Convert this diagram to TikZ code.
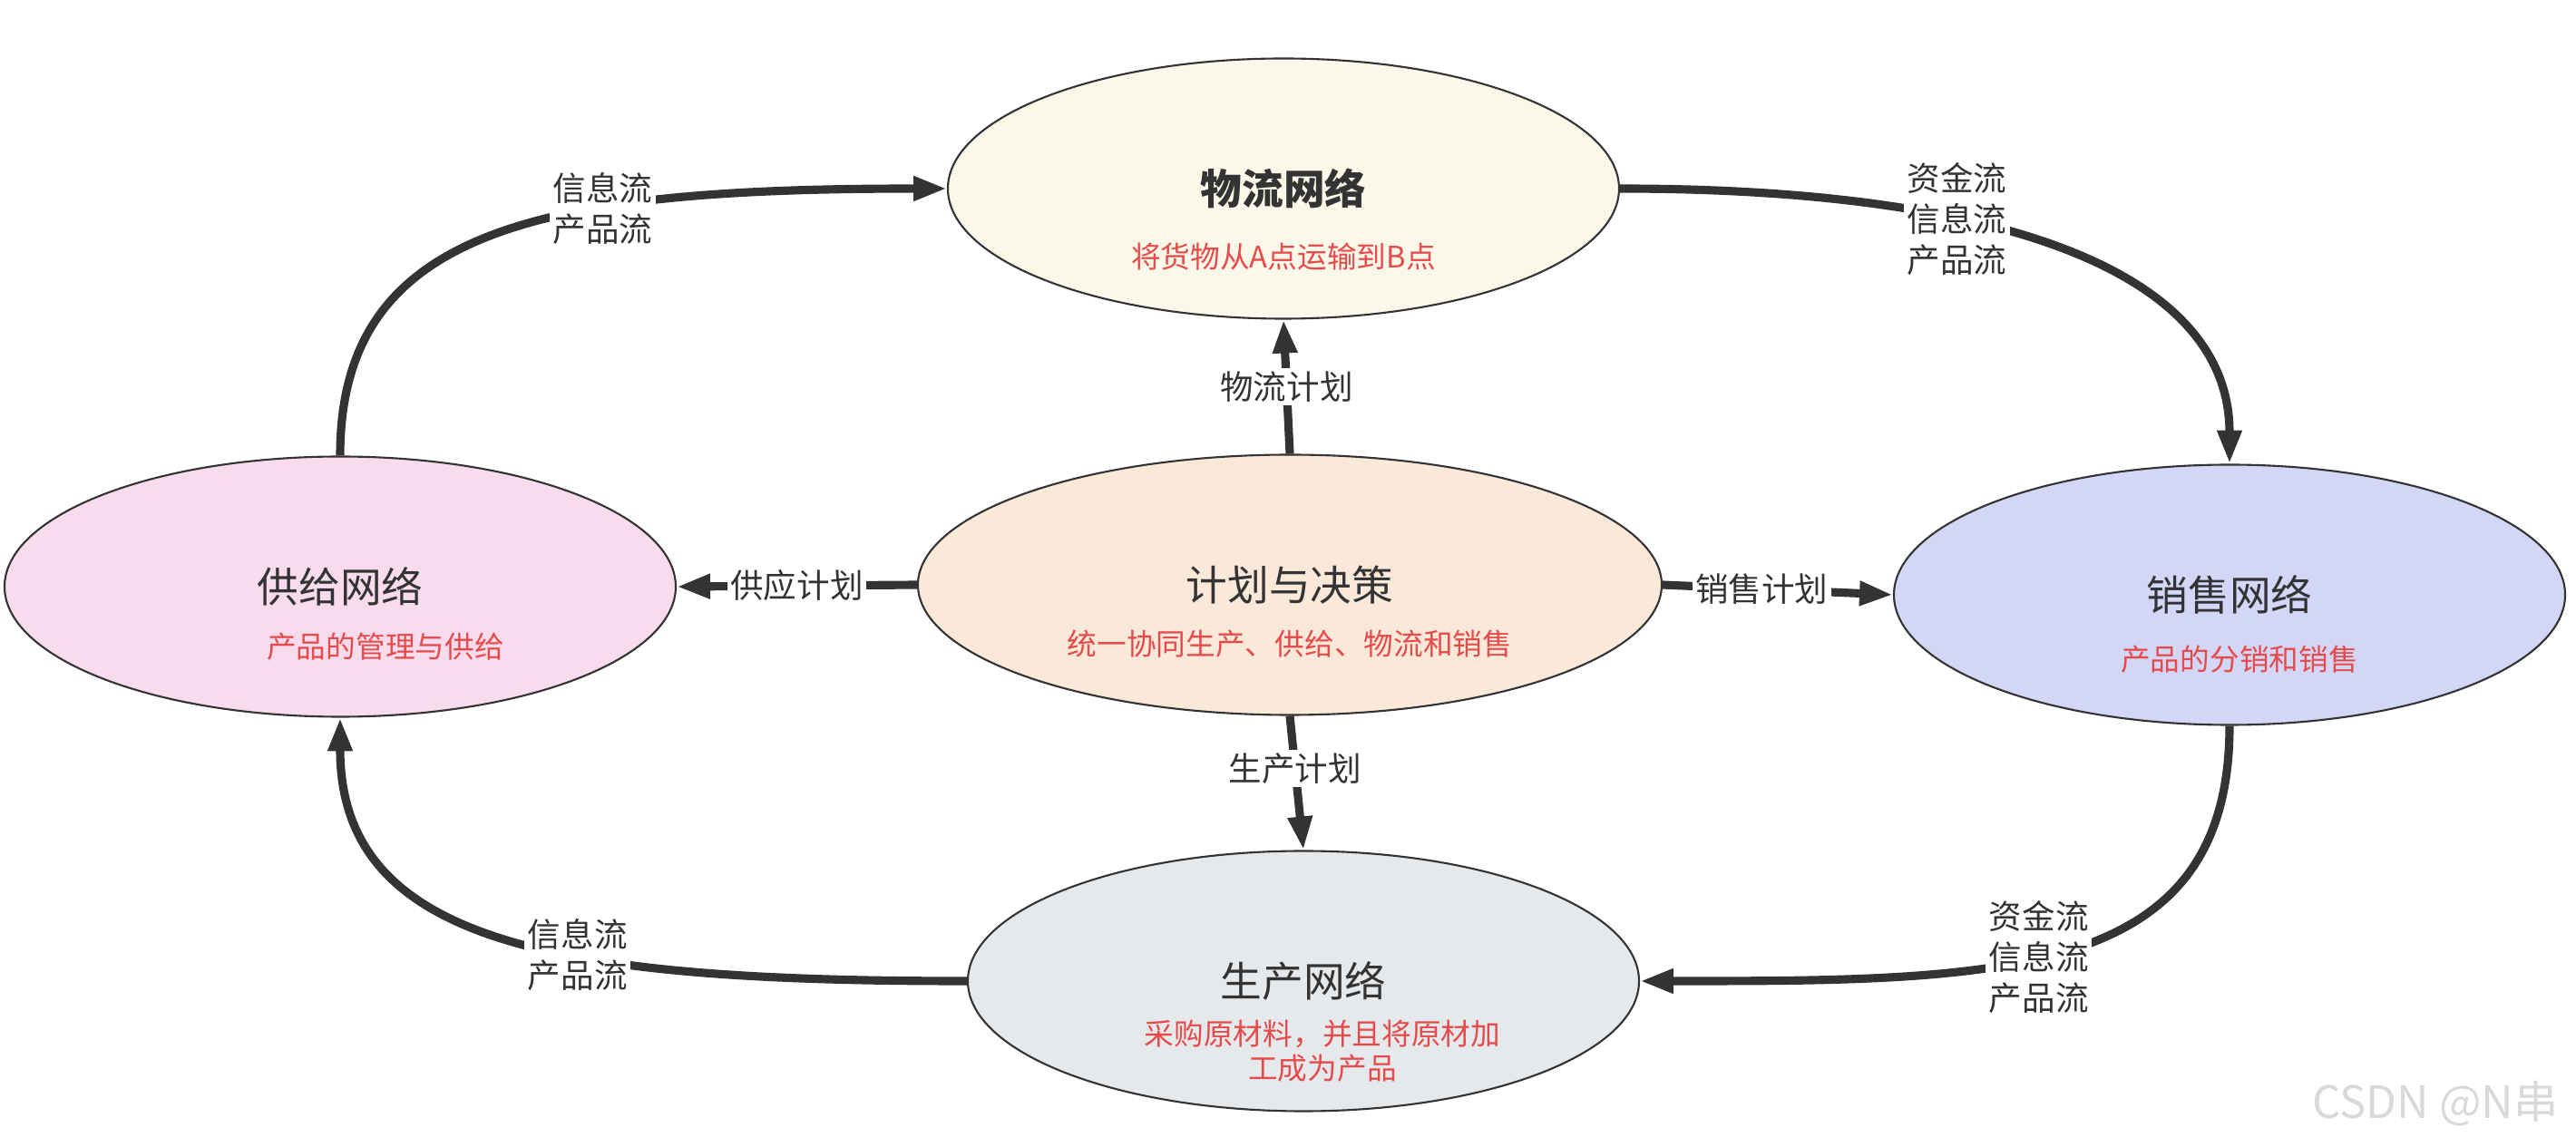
\documentclass[tikz,border=0pt]{standalone}
\usepackage{fontspec}
\setmainfont{Noto Sans CJK SC}
\usepackage{tikz}
\usetikzlibrary{arrows.meta,shapes.geometric}
\definecolor{fonce}{HTML}{333333}
\definecolor{rouge}{HTML}{E64B4B}
\definecolor{creme}{HTML}{FBF8E9}
\definecolor{rose}{HTML}{F8DBEC}
\definecolor{peche}{HTML}{FAE8D9}
\definecolor{lavande}{HTML}{D3D6F7}
\definecolor{grisclair}{HTML}{E6E9EC}
\tikzset{
Reseau/.style={
 ellipse, 
 draw=fonce, 
 line width=0.6pt, 
 inner sep=0pt, 
 minimum width=7.4cm, 
 minimum height=2.87cm, 
 text=fonce, 
 font=\fontsize{13}{15}\selectfont
 },
Soustitre/.style={
 text=rouge, 
 align=center, 
 inner sep=0pt, 
 font=\fontsize{9.3}{10.8}\selectfont
 },
Fleche/.style={
 draw=fonce, 
 line width=2.6pt, 
 -{Triangle[length=10.5pt,width=7.2pt]}
 },
Flux/.style={
 fill=white, 
 text=fonce, 
 inner sep=1pt, 
 align=center, 
 font=\fontsize{10.4}{12.8}\selectfont
 }
}
\begin{document}
\begin{tikzpicture}
\fill[white] (0,0) rectangle (28.4,12.64);
\useasboundingbox (0,0) rectangle (28.4,12.64);
% les cinq reseaux
\node[Reseau,fill=creme,font=\fontsize{13}{15}\selectfont\bfseries] (log) at (14.15,10.56) {物流网络};
\node[Reseau,fill=rose] (sup) at (3.75,6.17) {供给网络};
\node[Reseau,fill=peche,minimum width=8.2cm] (plan) at (14.22,6.19) {计划与决策};
\node[Reseau,fill=lavande] (sal) at (24.58,6.08) {销售网络};
\node[Reseau,fill=grisclair] (prod) at (14.37,1.82) {生产网络};
\node[Soustitre] (logs) at ([yshift=-7.5mm]log.center) {将货物从A点运输到B点};
\node[Soustitre] (sups) at ([xshift=5mm,yshift=-6.6mm]sup.center) {产品的管理与供给};
\node[Soustitre] (plans) at ([yshift=-6.5mm]plan.center) {统一协同生产、供给、物流和销售};
\node[Soustitre] (sals) at ([xshift=1.1mm,yshift=-7.1mm]sal.center) {产品的分销和销售};
\node[Soustitre] (prods) at ([xshift=2.1mm,yshift=-7.7mm]prod.center) {采购原材料，并且将原材加\\工成为产品};
% flux exterieurs
\draw[Fleche] (sup.north) .. controls +(0,2.5) and +(-4.5,0) .. (log.west)
 node[Flux,pos=0.66] (f1) {信息流\\产品流};
\draw[Fleche] (log.east) .. controls +(4.5,0) and +(0,2) .. (sal.north)
 node[Flux,pos=0.33] (f2) {资金流\\信息流\\产品流};
\draw[Fleche] (sal.south) .. controls +(0,-2.8) and +(4,0) .. (prod.east)
 node[Flux,pos=0.55] (f3) {资金流\\信息流\\产品流};
\draw[Fleche] (prod.west) .. controls +(-4.5,0) and +(0,-2.5) .. (sup.south)
 node[Flux,pos=0.39] (f4) {信息流\\产品流};
% plans
\draw[Fleche] (plan.north) -- (log.south) node[Flux,midway] (p1) {物流计划};
\draw[Fleche] (plan.west) -- (sup.east) node[Flux,midway] (p2) {供应计划};
\draw[Fleche] (plan.east) -- (sal.west) node[Flux,pos=0.43] (p3) {销售计划};
\draw[Fleche] (plan.south) -- (prod.north) node[Flux,pos=0.39] (p4) {生产计划};
\node[text=gray!30,font=\fontsize{14}{14}\selectfont] (marque) at (26.85,0.47) {CSDN @N串};
\end{tikzpicture}
\end{document}
